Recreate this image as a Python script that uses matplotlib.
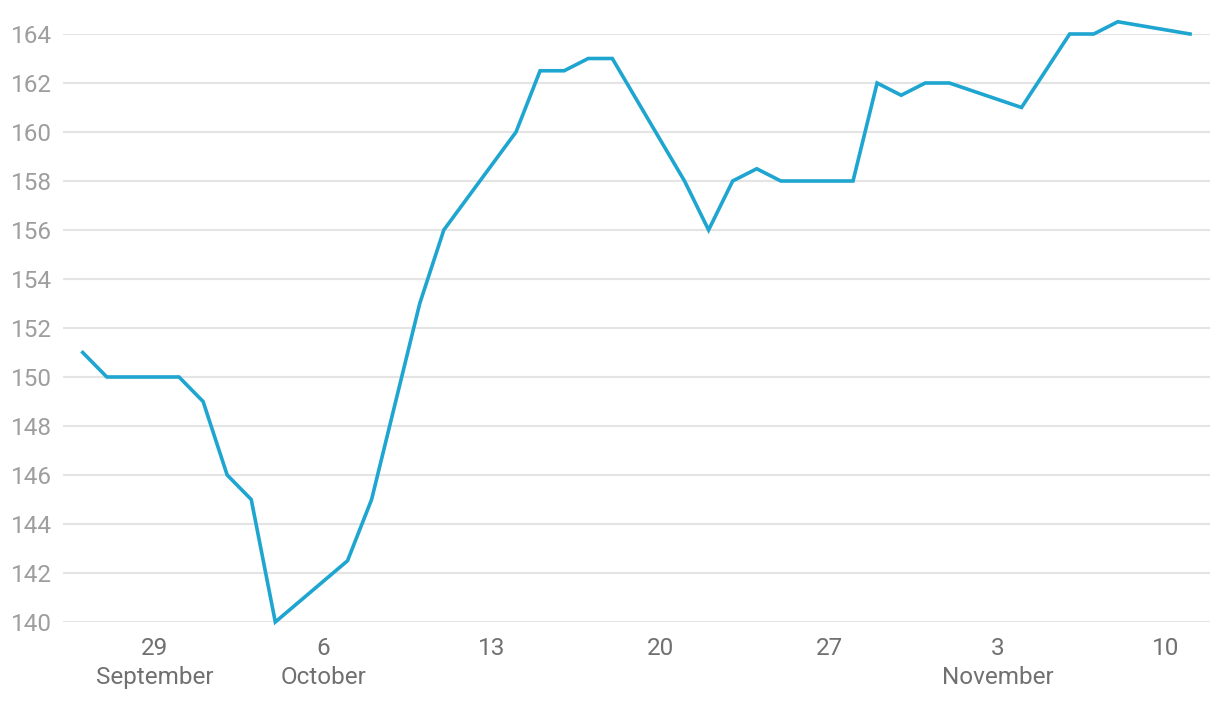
import datetime as dt
import matplotlib
matplotlib.use("Agg")
import matplotlib.pyplot as plt
import matplotlib.dates as mdates

# Daily values (missing days are joined by the line)
dates = [
    "2023-09-26", "2023-09-27", "2023-09-30", "2023-10-01", "2023-10-02",
    "2023-10-03", "2023-10-04", "2023-10-07", "2023-10-08", "2023-10-10",
    "2023-10-11", "2023-10-14", "2023-10-15", "2023-10-16", "2023-10-17",
    "2023-10-18", "2023-10-21", "2023-10-22", "2023-10-23", "2023-10-24",
    "2023-10-25", "2023-10-28", "2023-10-29", "2023-10-30", "2023-10-31",
    "2023-11-01", "2023-11-04", "2023-11-06", "2023-11-07", "2023-11-08",
    "2023-11-11",
]
values = [
    151, 150, 150, 149, 146,
    145, 140, 142.5, 145, 153,
    156, 160, 162.5, 162.5, 163,
    163, 158, 156, 158, 158.5,
    158, 158, 162, 161.5, 162,
    162, 161, 164, 164, 164.5,
    164,
]
tick_dates = ["2023-09-29", "2023-10-06", "2023-10-13", "2023-10-20",
              "2023-10-27", "2023-11-03", "2023-11-10"]
tick_labels = ["29\nSeptember", "6\nOctober", "13", "20", "27",
               "3\nNovember", "10"]
y_ticks = list(range(140, 165, 2))

plt.rcParams["font.family"] = ["Roboto", "DejaVu Sans"]

x = [dt.datetime.strptime(d, "%Y-%m-%d") for d in dates]
xt = [dt.datetime.strptime(d, "%Y-%m-%d") for d in tick_dates]

fig = plt.figure(figsize=(12.2, 7.02), dpi=100)
ax = fig.add_axes([63 / 1220, 1 - 622 / 702, (1210 - 63) / 1220, 588 / 702])

ax.plot(x, values, color="#1ea5d0", linewidth=2.6, clip_on=False,
        solid_joinstyle="miter", zorder=3)

ax.set_ylim(140, 164)
ax.set_yticks(y_ticks)
ax.set_xlim(mdates.date2num(xt[0]) - 3.82, mdates.date2num(xt[-1]) + 1.83)
ax.set_xticks(xt)
ax.set_xticklabels(tick_labels, linespacing=1.3)

ax.grid(axis="y", color="#e4e4e4", linewidth=1.5)
ax.set_axisbelow(True)
for s in ax.spines.values():
    s.set_visible(False)
ax.tick_params(axis="both", length=0)
ax.tick_params(axis="y", labelsize=17.5, labelcolor="#9e9e9e", pad=8)
ax.tick_params(axis="x", labelsize=17.5, labelcolor="#707070", pad=11)

fig.savefig("out.png", dpi=100)
